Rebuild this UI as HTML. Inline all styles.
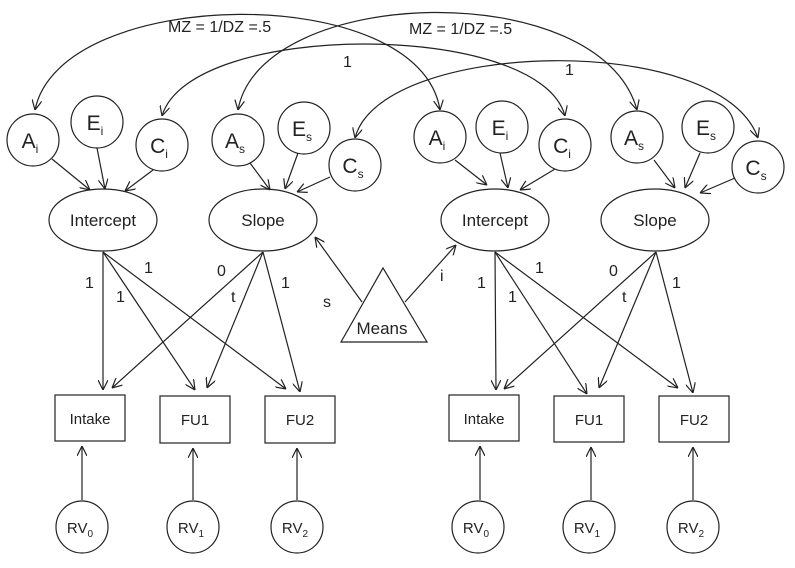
<!DOCTYPE html>
<html><head><style>
html,body{margin:0;padding:0;background:#fff;}
svg text{font-family:"Liberation Sans",sans-serif;fill:#222;}
</style></head><body>
<svg width="795" height="563" viewBox="0 0 795 563" xmlns="http://www.w3.org/2000/svg">
<defs>
<marker id="a" viewBox="0 0 10 10" refX="10" refY="5" markerWidth="10" markerHeight="10" orient="auto-start-reverse" markerUnits="userSpaceOnUse">
<path d="M0,0 L10,5 L0,10" fill="none" stroke="#222" stroke-width="1.2"/>
</marker>
</defs>
<g fill="none" stroke="#222" stroke-width="1.2">
<path d="M440,110 C420,-20 60,-15 35,110" marker-start="url(#a)" marker-end="url(#a)"/>
<path d="M637,110 C600,-25 260,-15 238,110" marker-start="url(#a)" marker-end="url(#a)"/>
<path d="M565,116 C540,20 190,20 162,116" marker-start="url(#a)" marker-end="url(#a)"/>
<path d="M758,138 C720,30 380,40 355,138" marker-start="url(#a)" marker-end="url(#a)"/>
<circle cx="33" cy="140" r="26"/><circle cx="97" cy="122" r="26"/><circle cx="162" cy="145" r="26"/>
<circle cx="238" cy="140" r="26"/><circle cx="304" cy="128" r="26"/><circle cx="355" cy="165" r="26"/>
<circle cx="440" cy="137" r="26"/><circle cx="502" cy="127" r="26"/><circle cx="565" cy="145" r="26"/>
<circle cx="637" cy="137" r="26"/><circle cx="708" cy="127" r="26"/><circle cx="758" cy="167" r="26"/>
<ellipse cx="103" cy="220" rx="54" ry="31"/><ellipse cx="263" cy="220" rx="54" ry="31"/>
<ellipse cx="495" cy="220" rx="54" ry="31"/><ellipse cx="655" cy="220" rx="54" ry="31"/>
<path d="M52,159 L90,190" marker-end="url(#a)"/><path d="M97,148 L105,189" marker-end="url(#a)"/><path d="M153,170 L125,191" marker-end="url(#a)"/>
<path d="M250,163 L270,190" marker-end="url(#a)"/><path d="M298,153 L285,189" marker-end="url(#a)"/><path d="M330,177 L297,192" marker-end="url(#a)"/>
<path d="M455,160 L487,185" marker-end="url(#a)"/><path d="M500,153 L508,188" marker-end="url(#a)"/><path d="M555,169 L520,190" marker-end="url(#a)"/>
<path d="M654,160 L675,188" marker-end="url(#a)"/><path d="M700,153 L685,188" marker-end="url(#a)"/><path d="M735,178 L700,193" marker-end="url(#a)"/>
<path d="M103,252 L103,390" marker-end="url(#a)"/><path d="M103,252 L195,390" marker-end="url(#a)"/><path d="M103,252 L286,389" marker-end="url(#a)"/>
<path d="M263,252 L112,388" marker-end="url(#a)"/><path d="M263,252 L207,388" marker-end="url(#a)"/><path d="M263,252 L300,392" marker-end="url(#a)"/>
<path d="M495,252 L496,390" marker-end="url(#a)"/><path d="M495,252 L587,394" marker-end="url(#a)"/><path d="M495,252 L678,388" marker-end="url(#a)"/>
<path d="M656,252 L504,389" marker-end="url(#a)"/><path d="M656,252 L599,388" marker-end="url(#a)"/><path d="M656,252 L693,393" marker-end="url(#a)"/>
<path d="M383,268 L341,342 L427,342 Z"/>
<path d="M362,302 L315,237" marker-end="url(#a)"/><path d="M405,302 L456,245" marker-end="url(#a)"/>
<rect x="55" y="395" width="70" height="46"/><rect x="160" y="396" width="70" height="47"/><rect x="265" y="396" width="70" height="47"/>
<rect x="449" y="395" width="70" height="46"/><rect x="554" y="396" width="70" height="46"/><rect x="659" y="396" width="70" height="46"/>
<circle cx="82" cy="527" r="26"/><circle cx="193" cy="527" r="26"/><circle cx="297" cy="527" r="26"/>
<circle cx="478" cy="527" r="26"/><circle cx="589" cy="527" r="26"/><circle cx="693" cy="527" r="26"/>
<path d="M82,500 L82,446" marker-end="url(#a)"/><path d="M193,500 L193,448" marker-end="url(#a)"/><path d="M297,500 L297,448" marker-end="url(#a)"/>
<path d="M480,500 L480,446" marker-end="url(#a)"/><path d="M591,500 L591,447" marker-end="url(#a)"/><path d="M693,500 L693,447" marker-end="url(#a)"/>
</g>
<g font-size="16">
<text x="168" y="32">MZ = 1/DZ =.5</text>
<text x="409" y="34">MZ = 1/DZ =.5</text>
<text x="343" y="67">1</text><text x="565" y="75">1</text>
<g font-size="21" text-anchor="middle">
<text x="30" y="148">A<tspan font-size="12" dy="5">i</tspan></text>
<text x="95" y="130">E<tspan font-size="12" dy="5">i</tspan></text>
<text x="159" y="153">C<tspan font-size="12" dy="5">i</tspan></text>
<text x="235" y="148">A<tspan font-size="12" dy="5">s</tspan></text>
<text x="302" y="136">E<tspan font-size="12" dy="5">s</tspan></text>
<text x="353" y="173">C<tspan font-size="12" dy="5">s</tspan></text>
<text x="437" y="145">A<tspan font-size="12" dy="5">i</tspan></text>
<text x="500" y="135">E<tspan font-size="12" dy="5">i</tspan></text>
<text x="562" y="153">C<tspan font-size="12" dy="5">i</tspan></text>
<text x="634" y="145">A<tspan font-size="12" dy="5">s</tspan></text>
<text x="706" y="135">E<tspan font-size="12" dy="5">s</tspan></text>
<text x="756" y="175">C<tspan font-size="12" dy="5">s</tspan></text>
</g>
<g font-size="17" text-anchor="middle">
<text x="103" y="226">Intercept</text><text x="263" y="226">Slope</text>
<text x="495" y="226">Intercept</text><text x="655" y="226">Slope</text>
<text x="382" y="334">Means</text>
</g>
<g font-size="15" text-anchor="middle">
<text x="90" y="424">Intake</text><text x="195" y="425">FU1</text><text x="300" y="425">FU2</text>
<text x="484" y="424">Intake</text><text x="589" y="425">FU1</text><text x="694" y="425">FU2</text>
<text x="80" y="533">RV<tspan font-size="10" dy="4">0</tspan></text>
<text x="191" y="533">RV<tspan font-size="10" dy="4">1</tspan></text>
<text x="295" y="533">RV<tspan font-size="10" dy="4">2</tspan></text>
<text x="476" y="533">RV<tspan font-size="10" dy="4">0</tspan></text>
<text x="587" y="533">RV<tspan font-size="10" dy="4">1</tspan></text>
<text x="691" y="533">RV<tspan font-size="10" dy="4">2</tspan></text>
</g>
<text x="85" y="288">1</text><text x="116" y="302">1</text><text x="144" y="273">1</text>
<text x="217" y="276">0</text><text x="231" y="302">t</text><text x="281" y="288">1</text>
<text x="323" y="307">s</text><text x="440" y="281">i</text>
<text x="477" y="288">1</text><text x="508" y="302">1</text><text x="535" y="273">1</text>
<text x="609" y="276">0</text><text x="622" y="302">t</text><text x="672" y="288">1</text>
</g>
</svg>
</body></html>
